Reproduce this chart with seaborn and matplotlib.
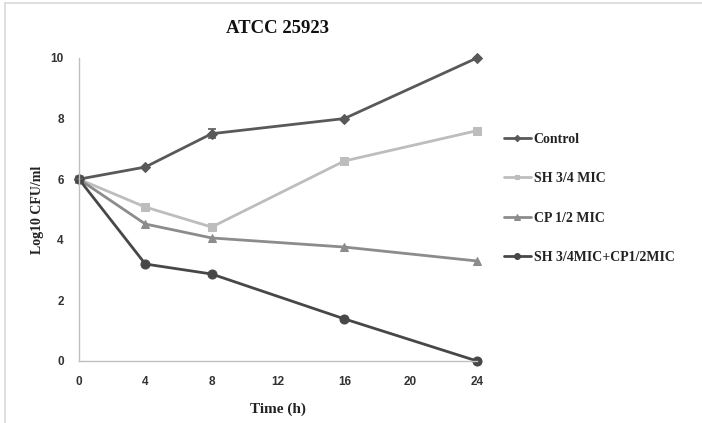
import numpy as np
import pandas as pd
import matplotlib
matplotlib.use("Agg")
import matplotlib.pyplot as plt
from matplotlib.lines import Line2D
import seaborn as sns

# 데이터
hours = [0, 4, 8, 16, 24]
control = [6.0, 6.4, 7.5, 8.0, 10.0]
control_err = [0, 0, 0.15, 0, 0]
sh_34 = [6.0, 5.08, 4.42, 6.6, 7.6]
cp_12 = [6.0, 4.52, 4.06, 3.76, 3.3]
combo = [6.0, 3.2, 2.87, 1.39, 0.0]

labels = ["Control", "SH 3/4 MIC", "CP 1/2 MIC", "SH 3/4MIC+CP1/2MIC"]
series = [control, sh_34, cp_12, combo]
colors = ["#595959", "#bdbdbd", "#8c8c8c", "#474747"]
markers = ["D", "s", "^", "o"]
msizes = [5, 5.5, 6, 6.5]

sns.set_style("white")
plt.rcParams["font.family"] = ["Liberation Serif", "DejaVu Serif"]

fig = plt.figure(figsize=(7.02, 4.23), dpi=100)
ax = fig.add_axes([0.1125, 0.1466, 0.567, 0.7164])

for lab, vals, c, m, ms in zip(labels, series, colors, markers, msizes):
    sns.lineplot(x=hours, y=vals, ax=ax, color=c, marker=m, markersize=ms,
                 markeredgecolor=c, linewidth=2, label=lab, clip_on=False)

ax.errorbar(hours, control, yerr=control_err, fmt="none", ecolor=colors[0],
            elinewidth=1.2, capsize=3, capthick=1.2, clip_on=False)

ax.set_xlim(0, 24)
ax.set_ylim(0, 10)
ax.set_xticks([0, 4, 8, 12, 16, 20, 24])
ax.set_yticks([0, 2, 4, 6, 8, 10])
ax.tick_params(axis="both", length=0, labelsize=8.5, colors="#333333")
ax.tick_params(axis="x", pad=11)
ax.tick_params(axis="y", pad=11)
for t in ax.get_xticklabels() + ax.get_yticklabels():
    t.set_family(["Liberation Sans", "DejaVu Sans"])
    t.set_fontweight("bold")

for s in ["top", "right"]:
    ax.spines[s].set_visible(False)
for s in ["left", "bottom"]:
    ax.spines[s].set_color("#c0c0c0")
    ax.spines[s].set_linewidth(1.0)

ax.set_title("ATCC 25923", fontsize=13.5, fontweight="bold", pad=18, color="#111111")
ax.set_xlabel("Time (h)", fontsize=11, fontweight="bold", labelpad=10, color="#222222")
ax.set_ylabel("Log10 CFU/ml", fontsize=10, fontweight="bold", labelpad=5, color="#222222")

leg = ax.legend(loc="upper left", bbox_to_anchor=(0.702, 0.712), bbox_transform=fig.transFigure,
                frameon=False, fontsize=10, labelspacing=1.9, handlelength=1.95,
                handletextpad=0.2, markerscale=0.65, borderpad=0.3)
for t in leg.get_texts():
    t.set_fontweight("bold")
    t.set_color("#222222")

# 바깥 테두리 (왼쪽, 위)
fig.add_artist(Line2D([0.007, 0.007], [0, 0.993], transform=fig.transFigure, color="#d9d9d9", lw=1.2))
fig.add_artist(Line2D([0.007, 1.0], [0.993, 0.993], transform=fig.transFigure, color="#d9d9d9", lw=1.2))

fig.savefig("out.png", dpi=100)
